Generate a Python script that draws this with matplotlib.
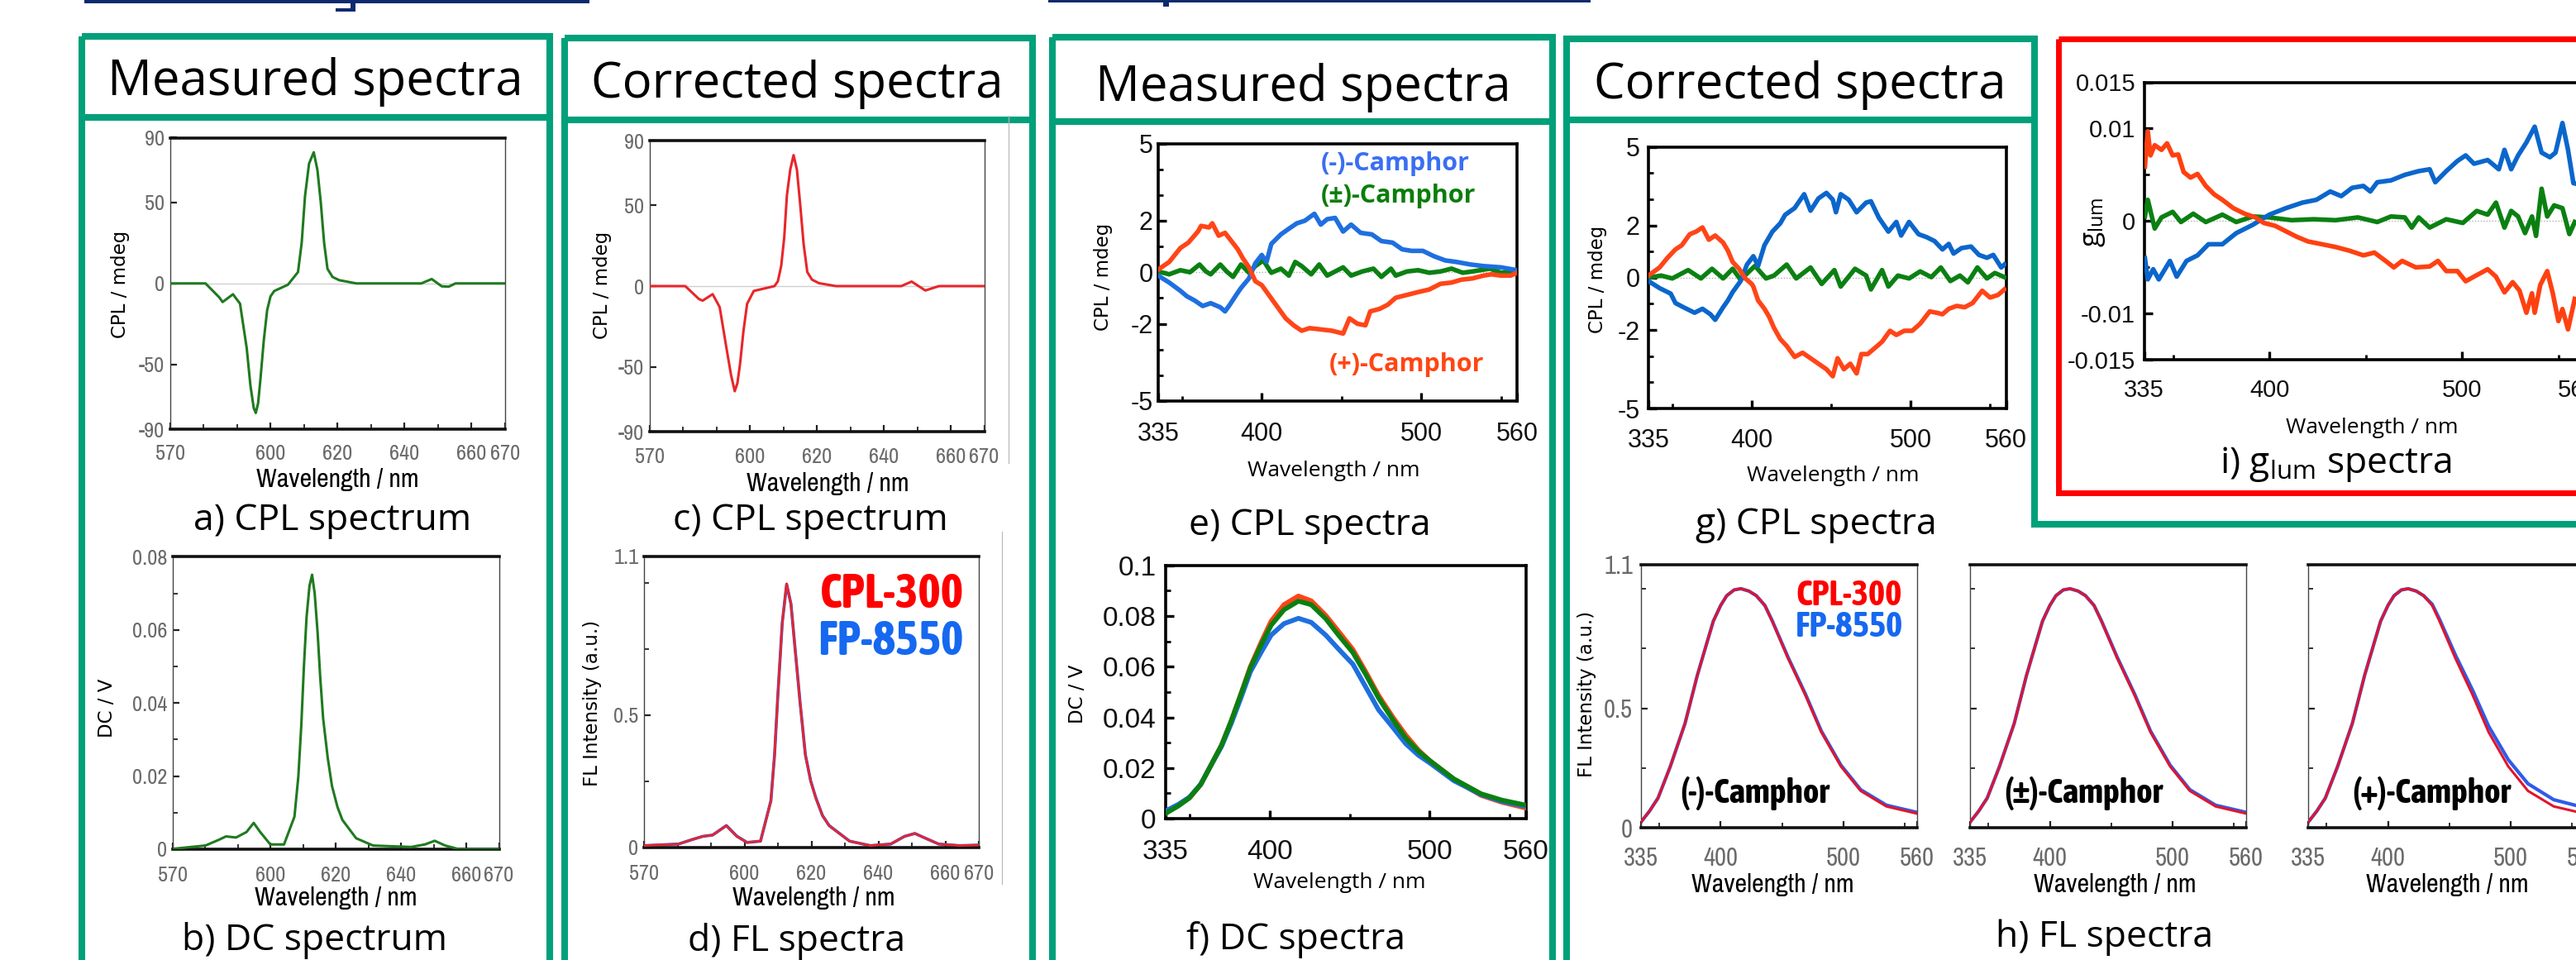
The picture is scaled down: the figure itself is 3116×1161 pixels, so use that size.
import matplotlib
matplotlib.use('Agg')
import matplotlib.pyplot as plt
from matplotlib.patches import Rectangle

# ---------------- data ----------------
# a) measured CPL (Eu complex), c) corrected CPL
a_wl = [570, 580.6, 584.7, 585.7, 588.8, 590.9, 592.9, 594, 595, 595.6, 596.3, 597, 598, 599, 600, 601.1,
        605.2, 608.2, 609.3, 610.3, 611.5, 612.9, 614, 615, 616, 617, 618.5, 620.5, 625.6, 645, 648.1,
        651.1, 653.2, 655.2, 670]
a_cpl = [0, 0, -8.6, -11.5, -6.7, -12.5, -40, -63, -77, -80, -74, -59, -35, -16.5, -8, -4.7,
         -0.8, 7, 25, 54, 74, 81, 70, 50, 25, 9, 4, 2, 0, 0, 2.7,
         -1.8, -2, 0, 0]
c_wl = [570, 580.6, 584.7, 585.8, 588.8, 590.9, 592.9, 594.3, 595.4, 596.2, 597, 598, 599.1, 601.1,
        607.3, 608.3, 609.3, 610.2, 611, 612, 613, 614, 615, 616, 617.1, 618.5, 620.6, 625.7, 645.2,
        648.3, 652.4, 656.5, 670]
c_cpl = [0, 0, -8, -9, -5, -13, -38, -55, -65, -60, -48, -28, -11, -3,
         0, 3, 12.5, 30, 56, 72, 81, 72, 50, 26, 8.7, 4, 1.8, 0, 0,
         2.8, -2.7, 0, 0]
# b) DC spectrum
b_wl = [570, 580, 584.2, 586.3, 589.4, 592.6, 594.8, 596.8, 599.9, 604.1, 607.3, 608.5, 609.4, 610.2,
        611, 611.9, 612.7, 613.5, 614.4, 615.2, 616.1, 617.5, 618.8, 620.5, 622, 626.2, 631.4, 643,
        647.3, 650.3, 653.5, 657.7, 670]
b_dc = [0.0001, 0.001, 0.0026, 0.0035, 0.0032, 0.0047, 0.0072, 0.0047, 0.0013, 0.0013, 0.0089, 0.02,
        0.034, 0.05, 0.0634, 0.072, 0.0751, 0.070, 0.0592, 0.047, 0.0357, 0.025, 0.0173, 0.0115, 0.008,
        0.003, 0.001, 0.0006, 0.0013, 0.0023, 0.001, 0, 0]
# d) FL spectra
d_wl = [570, 580.3, 584.4, 587.5, 590.5, 594.6, 597.7, 600.8, 604.8, 607.9, 609, 610, 611.3, 612.6,
        613.9, 615.1, 616.6, 618.2, 619.8, 621.3, 623.3, 625.3, 631.4, 637.6, 643.7, 647.8, 650.9,
        653.9, 658, 664.2, 670]
d_fl_cpl300 = [0.006, 0.012, 0.029, 0.041, 0.046, 0.081, 0.041, 0.018, 0.023, 0.174, 0.35, 0.58, 0.85,
               0.997, 0.92, 0.753, 0.55, 0.348, 0.25, 0.186, 0.12, 0.081, 0.023, 0.006, 0.012, 0.041,
               0.052, 0.035, 0.012, 0.006, 0.008]
d_fl_fp8550 = [0.006, 0.012, 0.029, 0.041, 0.046, 0.082, 0.042, 0.018, 0.023, 0.176, 0.35, 0.58, 0.85,
               0.995, 0.92, 0.755, 0.55, 0.35, 0.25, 0.188, 0.12, 0.082, 0.023, 0.006, 0.012, 0.041,
               0.052, 0.035, 0.012, 0.006, 0.008]

# e) measured CPL of camphor
e_plus_wl = [335, 342, 349, 354, 360, 362, 367, 369, 373, 377, 381, 385, 388, 392, 396, 400, 405, 410,
             415, 420, 425, 430, 437, 444, 451, 455, 460, 465, 468, 474, 479, 484, 491, 498, 505, 512,
             519, 525, 532, 539, 544, 550, 556, 560]
e_plus = [0.1, 0.4, 0.94, 1.15, 1.58, 1.8, 1.74, 1.9, 1.42, 1.53, 1.21, 0.89, 0.56, 0.19, -0.35, -0.5,
          -0.93, -1.36, -1.79, -2.06, -2.27, -2.17, -2.22, -2.27, -2.38, -1.79, -2.0, -2.06, -1.52, -1.42,
          -1.26, -0.99, -0.88, -0.77, -0.67, -0.45, -0.40, -0.29, -0.24, -0.13, -0.08, -0.13, -0.13, -0.02]
e_minus_wl = [335, 342, 349, 353, 358, 363, 368, 374, 377, 380, 384, 387, 392, 396, 400, 403, 406, 412,
              417, 422, 427, 433, 437, 441, 446, 451, 456, 462, 469, 475, 482, 488, 494, 501, 508, 515,
              522, 531, 539, 550, 560]
e_minus = [-0.13, -0.4, -0.72, -0.93, -1.1, -1.31, -1.2, -1.36, -1.52, -1.26, -0.88, -0.61, -0.24, 0.35,
           0.67, 0.4, 1.1, 1.47, 1.69, 1.9, 2.0, 2.27, 1.85, 2.06, 2.11, 1.58, 1.85, 1.53, 1.47, 1.21,
           1.15, 0.89, 0.83, 0.83, 0.62, 0.46, 0.4, 0.3, 0.24, 0.19, 0.08]
e_rac_wl = [335, 342, 349, 355, 361, 365, 368, 374, 378, 382, 387, 392, 396, 401, 406, 412, 417, 421,
            425, 431, 436, 441, 446, 451, 456, 463, 470, 475, 481, 484, 491, 498, 505, 512, 519, 526,
            532, 543, 550, 560]
e_rac = [0.03, -0.08, 0.08, 0, 0.3, 0.03, -0.08, 0.3, 0.03, -0.18, 0.3, -0.02, 0.24, 0.46, -0.02, 0.14,
         -0.13, 0.4, 0.24, -0.08, 0.3, -0.13, 0.03, 0.19, -0.13, 0.03, 0.14, -0.18, 0.14, -0.13, 0.03,
         0.08, -0.02, 0.03, 0.14, -0.02, 0.03, 0.14, -0.02, 0.03]

# g) corrected CPL of camphor
g_plus_wl = [335, 342, 347, 352, 356, 361, 365, 369, 373, 377, 382, 385, 388, 392, 396, 400, 401, 404,
             408, 411, 414, 418, 422, 427, 432, 437, 442, 447, 451, 454, 458, 462, 466, 469, 473, 479,
             482, 487, 491, 496, 501, 506, 512, 517, 520, 524, 529, 534, 539, 545, 550, 555, 559]
g_plus = [0.08, 0.39, 0.76, 1.08, 1.24, 1.66, 1.76, 1.92, 1.45, 1.61, 1.34, 1.03, 0.6, 0.34, -0.03,
          -0.24, -0.34, -0.87, -1.19, -1.5, -1.92, -2.35, -2.61, -3.03, -2.87, -3.08, -3.29, -3.5, -3.77,
          -3.08, -3.5, -3.29, -3.66, -2.92, -2.92, -2.61, -2.45, -2.03, -2.19, -2.03, -2.03, -1.76,
          -1.29, -1.35, -1.4, -1.19, -1.08, -1.13, -0.97, -0.5, -0.76, -0.66, -0.45]
g_minus_wl = [335, 342, 349, 352, 357, 364, 369, 374, 377, 382, 385, 388, 393, 397, 401, 404, 408, 413,
              418, 421, 427, 433, 437, 442, 447, 451, 453, 456, 461, 466, 472, 475, 480, 486, 491, 494,
              499, 505, 510, 515, 520, 524, 527, 532, 538, 543, 548, 552, 557, 559]
g_minus = [-0.13, -0.4, -0.61, -0.97, -1.13, -1.34, -1.19, -1.4, -1.61, -1.13, -0.87, -0.55, -0.13, 0.5,
           0.82, 0.45, 1.24, 1.76, 2.08, 2.4, 2.66, 3.19, 2.56, 3.03, 3.24, 2.98, 2.5, 3.19, 2.98, 2.5,
           2.87, 2.92, 2.29, 1.76, 2.13, 1.61, 2.13, 1.66, 1.55, 1.4, 1.08, 1.29, 0.92, 1.13, 1.19,
           0.87, 0.76, 0.87, 0.39, 0.5]
g_rac_wl = [335, 343, 350, 360, 368, 375, 382, 388, 393, 402, 409, 414, 422, 428, 437, 444, 452, 456,
            465, 472, 475, 482, 486, 492, 499, 506, 513, 519, 525, 531, 536, 542, 548, 553, 559]
g_rac = [0, 0.08, -0.03, 0.29, -0.03, 0.34, -0.03, 0.34, -0.08, 0.45, -0.03, 0.08, 0.5, -0.03, 0.39,
         -0.24, 0.29, -0.34, 0.34, 0.08, -0.45, 0.29, -0.34, 0.08, -0.03, 0.24, 0.02, 0.39, -0.13, 0.08,
         -0.18, 0.39, -0.03, 0.18, 0.02]

# f) DC spectra
f_wl = [335, 343, 350, 357, 363, 370, 376, 382, 388, 395, 401, 409, 418, 426, 435, 443, 452, 460, 468,
        477, 485, 493, 500, 515, 532, 545, 560]
f_plus = [0.0026, 0.0052, 0.0082, 0.0135, 0.0206, 0.029, 0.0385, 0.049, 0.060, 0.070, 0.078, 0.0845,
          0.0879, 0.086, 0.0803, 0.074, 0.0668, 0.058, 0.0487, 0.040, 0.033, 0.027, 0.0229, 0.0155,
          0.0092, 0.0065, 0.0042]
f_rac = [0.002, 0.005, 0.0082, 0.0135, 0.0206, 0.029, 0.0385, 0.049, 0.0595, 0.069, 0.0764, 0.0825,
         0.0859, 0.0845, 0.079, 0.0725, 0.0656, 0.057, 0.0477, 0.039, 0.0318, 0.0265, 0.0229, 0.0157,
         0.0098, 0.0073, 0.0053]
f_minus = [0.003, 0.0056, 0.0085, 0.0135, 0.0206, 0.0285, 0.0375, 0.0475, 0.058, 0.066, 0.0725, 0.077,
           0.0791, 0.0775, 0.0725, 0.067, 0.061, 0.052, 0.043, 0.036, 0.0296, 0.025, 0.022, 0.015,
           0.0095, 0.0068, 0.0048]

# h) FL spectra (CPL-300 vs FP-8550)
h_wl = [335, 342, 349, 359, 371, 381, 388, 394, 400, 405, 411, 416.5, 423, 429, 436, 442, 455, 469, 482,
        498, 514, 535, 560]
h_cpl300 = [0.024, 0.07, 0.125, 0.257, 0.437, 0.638, 0.76, 0.864, 0.93, 0.971, 0.995, 1.0, 0.99, 0.971,
            0.93, 0.864, 0.708, 0.555, 0.40, 0.257, 0.155, 0.09, 0.06]
h_fp8550 = [0.024, 0.07, 0.125, 0.257, 0.437, 0.638, 0.76, 0.864, 0.93, 0.971, 0.995, 1.0, 0.99, 0.971,
            0.93, 0.866, 0.712, 0.56, 0.405, 0.262, 0.16, 0.095, 0.065]
h_fp8550_plus = [0.024, 0.07, 0.125, 0.257, 0.437, 0.638, 0.76, 0.864, 0.93, 0.971, 0.995, 1.0, 0.99,
                 0.971, 0.935, 0.872, 0.722, 0.575, 0.425, 0.285, 0.185, 0.118, 0.085]
h_titles = ['(-)-Camphor', '(±)-Camphor', '(+)-Camphor']

# i) g_lum spectra
i_plus_wl = [335.4, 336.9, 338.3, 340.5, 344, 346.9, 349.8, 352.7, 355.5, 359.1, 362.7, 367, 371.3,
             375.6, 381.3, 387.1, 392.8, 397.1, 402.9, 408.6, 414.3, 420.1, 427.3, 434.4, 441.6, 448.8,
             454.5, 460.3, 464.6, 468.9, 476, 483.2, 487.5, 491.8, 497.6, 501.9, 506.2, 513.3, 517.6,
             522, 526.3, 529.8, 533.4, 536.3, 537.7, 540.6, 544.2, 547.1, 550, 552.1, 555, 558.5]
i_plus = [0.0059, 0.0097, 0.0071, 0.0082, 0.0077, 0.0084, 0.0071, 0.0072, 0.0053, 0.0047, 0.0051, 0.0038,
          0.0029, 0.0023, 0.0014, 0.0008, 0.0004, -0.0002, -0.0005, -0.0011, -0.0017, -0.0022, -0.0025,
          -0.0028, -0.0032, -0.0037, -0.0034, -0.0043, -0.005, -0.0043, -0.005, -0.0049, -0.0043,
          -0.0054, -0.0054, -0.0065, -0.006, -0.0052, -0.006, -0.0077, -0.0066, -0.0075, -0.0099,
          -0.0078, -0.0099, -0.0069, -0.0054, -0.0078, -0.0108, -0.0095, -0.0117, -0.0084]
i_minus_wl = [335.4, 336.9, 339.7, 342.6, 348.4, 351.9, 357, 362.7, 368.4, 375.6, 382.8, 391.4, 400,
              408.6, 417.2, 424.4, 431.6, 437.3, 443, 448.8, 452.4, 456, 463.1, 470.3, 477.5, 483.2,
              486.1, 491.8, 497.6, 501.9, 506.2, 513.3, 519.1, 522, 525.5, 529.1, 533.4, 537.7, 541.3,
              545.6, 548.5, 552.1, 555, 557.8, 560]
i_minus = [-0.004, -0.0063, -0.0052, -0.0063, -0.0043, -0.006, -0.0043, -0.0037, -0.0025, -0.0025,
           -0.0013, -0.0004, 0.0007, 0.0014, 0.002, 0.0023, 0.0032, 0.0027, 0.0036, 0.0038, 0.0032,
           0.0042, 0.0044, 0.005, 0.0054, 0.0056, 0.0042, 0.0054, 0.0065, 0.0071, 0.0062, 0.0066,
           0.0056, 0.0077, 0.0056, 0.0071, 0.0085, 0.0102, 0.0074, 0.0069, 0.0074, 0.0106, 0.0077,
           0.0041, 0.004]
i_rac_wl = [335.4, 336.9, 340.5, 344, 349.8, 354.1, 360.5, 367, 375.6, 382.8, 391.4, 400, 411.5, 423,
            434.4, 445.9, 456, 463.1, 470.3, 473.9, 477.5, 483.2, 491.8, 500.4, 507.6, 513.3, 517.6,
            522, 525.5, 529.1, 532.7, 536.3, 538.4, 541.3, 544.2, 547.8, 552.1, 555.7, 558.5]
i_rac = [0.0005, 0.0023, -0.0008, 0.0004, 0.001, -0.0001, 0.0008, -0.0001, 0.0007, -0.0001, 0.0005,
         0.0004, 0.0001, 0.0002, 0.0001, 0.0004, -0.0001, 0.0005, 0.0004, -0.0007, 0.0004, -0.0007,
         0.0002, -0.0002, 0.0011, 0.0007, 0.002, -0.0007, 0.0011, 0.0005, -0.0013, 0.0005, -0.0016,
         0.0035, 0.0005, 0.0017, 0.0014, -0.0014, -0.0001]

# ---------------- style ----------------
W, H = 3116, 1161
plt.rcParams['font.family'] = ['Open Sans', 'DejaVu Sans']
plt.rcParams['axes.unicode_minus'] = False

NARROW = ['Archivo Narrow', 'Roboto Condensed', 'Liberation Sans', 'DejaVu Sans']
NARROW_B = ['Asap Condensed', 'Barlow Condensed', 'Liberation Sans', 'DejaVu Sans']
ARIAL = ['Liberation Sans', 'DejaVu Sans']
VERD = ['DejaVu Sans']
SEGOE = ['Open Sans', 'DejaVu Sans']

TEAL = '#00a07a'
NAVY = '#0d2a6e'
C_RED = '#ff4518'
C_GREEN = '#0b8012'

fig = plt.figure(figsize=(W / 100, H / 100), dpi=100)
ov = fig.add_axes([0, 0, 1, 1])
ov.set_xlim(0, W)
ov.set_ylim(H, 0)
ov.axis('off')


def add_ax(l, t, r, b):
    ax = fig.add_axes([l / W, 1 - b / H, (r - l) / W, (b - t) / H])
    ax._px = (l, t, r, b)
    ax.set_facecolor('none')
    return ax


def xlabel_at(ax, text, x, y, **kw):
    l, t, r, b = ax._px
    ax.set_xlabel(text, **kw)
    ax.xaxis.set_label_coords((x - l) / (r - l), (b - y) / (b - t))
    ax.xaxis.label.set_va('center')


def ylabel_at(ax, text, x, y, **kw):
    l, t, r, b = ax._px
    ax.set_ylabel(text, **kw)
    ax.yaxis.set_label_coords((x - l) / (r - l), (b - y) / (b - t))
    ax.yaxis.label.set_va('center')


def scan_style(ax, xpad, ypad, fs):
    for s in ['top', 'bottom']:
        ax.spines[s].set_linewidth(2.6)
        ax.spines[s].set_color('#111111')
    for s in ['left', 'right']:
        ax.spines[s].set_linewidth(1.0)
        ax.spines[s].set_color('#444444')
    ax.tick_params(which='both', direction='in', colors='#222222', labelcolor='#6a6a6a',
                   labelsize=fs, labelfontfamily=NARROW)
    ax.tick_params(which='major', length=6, width=1.6)
    ax.tick_params(which='minor', length=4, width=1.3)
    ax.tick_params(axis='x', which='both', pad=xpad)
    ax.tick_params(axis='y', which='both', pad=ypad)


def modern_style(ax, xpad, ypad, fs):
    for s in ax.spines.values():
        s.set_linewidth(2.6)
        s.set_color('#000000')
    ax.tick_params(which='both', direction='in', colors='#000000', labelcolor='#111111',
                   labelsize=fs, labelfontfamily=ARIAL)
    ax.tick_params(which='major', length=7, width=2.4)
    ax.tick_params(which='minor', length=4.5, width=2.0)
    ax.tick_params(axis='x', which='both', pad=xpad)
    ax.tick_params(axis='y', which='both', pad=ypad)


# ---------------- layout: boxes ----------------
GLW = 5.8
ov.add_patch(Rectangle((99.5, 43.6), 565.5, 1300, fill=False, ec=TEAL, lw=GLW, joinstyle='miter'))
ov.plot([99.5, 665], [141.6, 141.6], color=TEAL, lw=GLW)
ov.add_patch(Rectangle((683, 46), 565.6, 1300, fill=False, ec=TEAL, lw=GLW, joinstyle='miter'))
ov.plot([683, 1248.6], [144.6, 144.6], color=TEAL, lw=GLW)
ov.add_patch(Rectangle((1273.5, 45), 604.2, 1300, fill=False, ec=TEAL, lw=GLW, joinstyle='miter'))
ov.plot([1273.5, 1877.7], [147, 147], color=TEAL, lw=GLW)
ov.plot([1895, 1895, 2461, 2461, 3200], [1300, 47, 47, 633.5, 633.5], color=TEAL, lw=GLW,
        solid_joinstyle='miter')
ov.plot([1895, 2461], [145, 145], color=TEAL, lw=GLW)
ov.add_patch(Rectangle((2490, 46.6), 800, 549.9, fill=False, ec='#ff0000', lw=5.0, joinstyle='miter'))
# thin image borders of pasted scans
ov.plot([1220, 1220], [140, 560], color='#b5b5b5', lw=0.8)
ov.plot([1212, 1212], [643, 1069], color='#b5b5b5', lw=0.8)
# cut-off navy underlines at the very top
ov.add_patch(Rectangle((102, 0), 611, 3.5, color=NAVY, lw=0))
ov.add_patch(Rectangle((1268, 0), 656, 2.8, color=NAVY, lw=0))
ov.add_patch(Rectangle((424, 0), 6, 14, color=NAVY, lw=0))
ov.add_patch(Rectangle((406, 10), 22, 4, color=NAVY, lw=0))
ov.add_patch(Rectangle((1407, 0), 7, 8, color=NAVY, lw=0))

# headers
HFS = 43
ov.text(381.5, 115, 'Measured spectra', ha='center', va='baseline', fontsize=HFS, family=SEGOE)
ov.text(964, 118.5, 'Corrected spectra', ha='center', va='baseline', fontsize=HFS, family=SEGOE)
ov.text(1576, 121.5, 'Measured spectra', ha='center', va='baseline', fontsize=HFS, family=SEGOE)
ov.text(2177, 119, 'Corrected spectra', ha='center', va='baseline', fontsize=HFS, family=SEGOE)

# captions
CFS = 32
ov.text(402, 641, 'a) CPL spectrum', ha='center', va='baseline', fontsize=CFS, family=SEGOE)
ov.text(980, 641, 'c) CPL spectrum', ha='center', va='baseline', fontsize=CFS, family=SEGOE)
ov.text(381, 1148.5, 'b) DC spectrum', ha='center', va='baseline', fontsize=CFS, family=SEGOE)
ov.text(964, 1150, 'd) FL spectra', ha='center', va='baseline', fontsize=CFS, family=SEGOE)
ov.text(1584.5, 647.5, 'e) CPL spectra', ha='center', va='baseline', fontsize=CFS, family=SEGOE)
ov.text(2197, 646, 'g) CPL spectra', ha='center', va='baseline', fontsize=CFS, family=SEGOE)
ov.text(1568, 1148, 'f) DC spectra', ha='center', va='baseline', fontsize=CFS, family=SEGOE)
ov.text(2546, 1144.5, 'h) FL spectra', ha='center', va='baseline', fontsize=CFS, family=SEGOE)
ov.text(2825, 572, r'i) $\mathregular{g_{lum}}$ spectra', ha='center', va='baseline', fontsize=CFS,
        family=SEGOE)

YLFS = 16.5
XLN = 23
TKN = 19

# ---------------- a) ----------------
ax = add_ax(205.6, 166.5, 611, 519)
ax.axhline(0, color='#d0d0d0', lw=1.0, zorder=1)
ax.plot(a_wl, a_cpl, color='#1f7a1f', lw=2.2, zorder=3)
ax.set_xlim(570, 670)
ax.set_ylim(-90, 90)
ax.set_xticks([570, 600, 620, 640, 660, 670])
ax.set_xticklabels(['570', '600', '620', '640', '660', '670'])
ax.set_xticks([580, 590, 610, 630, 650], minor=True)
ax.set_yticks([-90, -50, 0, 50, 90])
ax.set_yticklabels(['-90', '-50', '0', '50', '90'])
scan_style(ax, 13.3, 4.8, TKN)
xlabel_at(ax, 'Wavelength / nm', 408, 580, fontsize=XLN, family=NARROW)
ylabel_at(ax, 'CPL / mdeg', 145, 344, fontsize=YLFS, family=VERD)

# ---------------- c) ----------------
ax = add_ax(786, 170, 1190.5, 522)
ax.axhline(0, color='#d0d0d0', lw=1.0, zorder=1)
ax.plot(c_wl, c_cpl, color='#e8262a', lw=2.2, zorder=3)
ax.set_xlim(570, 670)
ax.set_ylim(-90, 90)
ax.set_xticks([570, 600, 620, 640, 660, 670])
ax.set_xticklabels(['570', '600', '620', '640', '660', '670'])
ax.set_xticks([580, 590, 610, 630, 650], minor=True)
ax.set_yticks([-90, -50, 0, 50, 90])
ax.set_yticklabels(['-90', '-50', '0', '50', '90'])
scan_style(ax, 14, 4.8, TKN)
xlabel_at(ax, 'Wavelength / nm', 1001, 585, fontsize=XLN, family=NARROW)
ylabel_at(ax, 'CPL / mdeg', 728, 345, fontsize=YLFS, family=VERD)

# ---------------- b) ----------------
ax = add_ax(209, 673.4, 603.6, 1027)
ax.plot(b_wl, b_dc, color='#1f7a1f', lw=2.2, zorder=3)
ax.set_xlim(570, 670)
ax.set_ylim(0, 0.08)
ax.set_xticks([570, 600, 620, 640, 660, 670])
ax.set_xticklabels(['570', '600', '620', '640', '660', '670'])
ax.set_xticks([580, 590, 610, 630, 650], minor=True)
ax.set_yticks([0, 0.02, 0.04, 0.06, 0.08])
ax.set_yticklabels(['0', '0.02', '0.04', '0.06', '0.08'])
ax.set_yticks([0.01, 0.03, 0.05, 0.07], minor=True)
scan_style(ax, 14.3, 4.8, TKN)
xlabel_at(ax, 'Wavelength / nm', 406, 1086, fontsize=XLN, family=NARROW)
ylabel_at(ax, 'DC / V', 130, 856, fontsize=YLFS, family=VERD)

# ---------------- d) ----------------
ax = add_ax(779, 673, 1184, 1024.6)
ax.plot(d_wl, d_fl_fp8550, color='#3050e0', lw=2.6, zorder=2)
ax.plot(d_wl, d_fl_cpl300, color='#e8262a', lw=2.0, zorder=3)
ax.set_xlim(570, 670)
ax.set_ylim(0, 1.1)
ax.set_xticks([570, 600, 620, 640, 660, 670])
ax.set_xticklabels(['570', '600', '620', '640', '660', '670'])
ax.set_xticks([580, 590, 610, 630, 650], minor=True)
ax.set_yticks([0, 0.5, 1.1])
ax.set_yticklabels(['0', '0.5', '1.1'])
ax.set_yticks([0.25, 0.75, 1.0], minor=True)
scan_style(ax, 14.7, 4.8, TKN)
xlabel_at(ax, 'Wavelength / nm', 984, 1086, fontsize=XLN, family=NARROW)
ylabel_at(ax, 'FL Intensity (a.u.)', 717, 850, fontsize=YLFS, family=VERD)
ov.text(1166, 719, 'CPL-300', ha='right', va='center', fontsize=42, fontweight='bold',
        family=NARROW_B, color='#ff0000')
ov.text(1166, 776.5, 'FP-8550', ha='right', va='center', fontsize=42, fontweight='bold',
        family=NARROW_B, color='#1668f0')

# ---------------- e) ----------------
LW = 4.0
ax = add_ax(1400.8, 173.5, 1835, 485)
ax.axhline(0, color='#b0b0b0', lw=1.0, ls=(0, (1, 1.5)), zorder=1)
ax.plot(e_rac_wl, e_rac, color=C_GREEN, lw=LW, zorder=3)
ax.plot(e_minus_wl, e_minus, color='#1f6fe0', lw=LW, zorder=3)
ax.plot(e_plus_wl, e_plus, color=C_RED, lw=LW, zorder=3)
ax.set_xlim(335, 560)
ax.set_ylim(-5, 5)
ax.set_xticks([335, 400, 500, 560])
ax.set_xticks([350, 450, 550], minor=True)
ax.set_yticks([-5, -2, 0, 2, 5])
ax.set_yticklabels(['-5', '-2', '0', '2', '5'])
ax.set_yticks([-4, -3, -1, 1, 3, 4], minor=True)
modern_style(ax, 18, 4.6, 22)
xlabel_at(ax, 'Wavelength / nm', 1613.6, 569, fontsize=19, family=SEGOE)
ylabel_at(ax, 'CPL / mdeg', 1335, 335, fontsize=YLFS, family=VERD)
ov.text(1598, 198, '(-)-Camphor', ha='left', va='center', fontsize=22, fontweight='bold',
        family=SEGOE, color='#3a6ff2')
ov.text(1598, 237, '(±)-Camphor', ha='left', va='center', fontsize=22, fontweight='bold',
        family=SEGOE, color='#0a7d0a')
ov.text(1608, 441, '(+)-Camphor', ha='left', va='center', fontsize=22, fontweight='bold',
        family=SEGOE, color='#ff4512')

# ---------------- g) ----------------
ax = add_ax(1994, 177.6, 2426.5, 494)
ax.axhline(0, color='#b0b0b0', lw=1.0, ls=(0, (1, 1.5)), zorder=1)
ax.plot(g_rac_wl, g_rac, color=C_GREEN, lw=LW, zorder=3)
ax.plot(g_minus_wl, g_minus, color='#0b66cc', lw=LW, zorder=3)
ax.plot(g_plus_wl, g_plus, color=C_RED, lw=LW, zorder=3)
ax.set_xlim(335, 560)
ax.set_ylim(-5, 5)
ax.set_xticks([335, 400, 500, 560])
ax.set_xticks([350, 450, 550], minor=True)
ax.set_yticks([-5, -2, 0, 2, 5])
ax.set_yticklabels(['-5', '-2', '0', '2', '5'])
ax.set_yticks([-4, -3, -1, 1, 3, 4], minor=True)
modern_style(ax, 17.3, 7.5, 22)
xlabel_at(ax, 'Wavelength / nm', 2217, 575.5, fontsize=19, family=SEGOE)
ylabel_at(ax, 'CPL / mdeg', 1932, 337.6, fontsize=YLFS, family=VERD)

# ---------------- f) ----------------
ax = add_ax(1409.8, 683.8, 1845.7, 990)
ax.plot(f_wl, f_plus, color=C_RED, lw=4.2, zorder=3)
ax.plot(f_wl, f_minus, color='#1f6fe0', lw=4.2, zorder=3)
ax.plot(f_wl, f_rac, color=C_GREEN, lw=4.2, zorder=4)
ax.set_xlim(335, 560)
ax.set_ylim(0, 0.1)
ax.set_xticks([335, 400, 500, 560])
ax.set_xticks([350, 450, 550], minor=True)
ax.set_yticks([0, 0.02, 0.04, 0.06, 0.08, 0.1])
ax.set_yticklabels(['0', '0.02', '0.04', '0.06', '0.08', '0.1'])
ax.set_yticks([0.01, 0.03, 0.05, 0.07, 0.09], minor=True)
modern_style(ax, 18, 8, 24)
xlabel_at(ax, 'Wavelength / nm', 1620, 1067, fontsize=19, family=SEGOE)
ylabel_at(ax, 'DC / V', 1303, 839, fontsize=YLFS, family=VERD)

# ---------------- i) ----------------
ax = add_ax(2593.6, 99.5, 3118, 435.3)
ax.axhline(0, color='#b0b0b0', lw=1.0, ls=(0, (1, 1.5)), zorder=1)
ax.plot(i_rac_wl, i_rac, color=C_GREEN, lw=LW, zorder=3)
ax.plot(i_minus_wl, i_minus, color='#0b66cc', lw=LW, zorder=3)
ax.plot(i_plus_wl, i_plus, color='#ff4010', lw=LW, zorder=3)
ax.set_xlim(335, 560)
ax.set_ylim(-0.015, 0.015)
ax.set_xticks([335, 400, 500, 560])
ax.set_xticks([350, 450, 550], minor=True)
ax.set_yticks([-0.015, -0.01, 0, 0.01, 0.015])
ax.set_yticklabels(['-0.015', '-0.01', '0', '0.01', '0.015'])
ax.set_yticks([-0.005, 0.005], minor=True)
modern_style(ax, 16.5, 7.6, 21)
xlabel_at(ax, 'Wavelength / nm', 2869.6, 518, fontsize=19, family=SEGOE)
ylabel_at(ax, r'$\mathregular{g_{lum}}$', 2532.7, 269, fontsize=24, family=SEGOE)

# ---------------- h) ----------------
h_left = [1984.8, 2383, 2792]
h_xlab = [2144, 2558, 2960]
h_txt = [2032, 2424, 2845.6]
h_blue = [h_fp8550, h_fp8550, h_fp8550_plus]
for k in range(3):
    ax = add_ax(h_left[k], 683, h_left[k] + 334.2, 1001.3)
    ax.plot(h_wl, h_blue[k], color='#2f5be8', lw=3.0, zorder=2)
    ax.plot(h_wl, h_cpl300, color='#e2142c', lw=2.2, zorder=3)
    ax.set_xlim(335, 560)
    ax.set_ylim(0, 1.1)
    ax.set_xticks([335, 400, 500, 560])
    ax.set_xticks([350, 450, 550], minor=True)
    ax.set_yticks([0, 0.5, 1.1])
    ax.set_yticks([0.25, 0.75, 1.0], minor=True)
    scan_style(ax, 16, 7, 22)
    if k == 0:
        ax.set_yticklabels(['0', '0.5', '1.1'])
        ylabel_at(ax, 'FL Intensity (a.u.)', 1919.4, 839, fontsize=YLFS, family=VERD)
    else:
        ax.set_yticklabels([])
    xlabel_at(ax, 'Wavelength / nm', h_xlab[k], 1070, fontsize=XLN, family=NARROW)
    ov.text(h_txt[k], 960, h_titles[k], ha='left', va='center', fontsize=30, fontweight='bold',
            family=NARROW_B, color='#000000')
ov.text(2172, 720, 'CPL-300', ha='left', va='center', fontsize=31, fontweight='bold',
        family=NARROW_B, color='#ff0000')
ov.text(2172, 758, 'FP-8550', ha='left', va='center', fontsize=31, fontweight='bold',
        family=NARROW_B, color='#1668f0')

fig.savefig('out.png', dpi=100)
